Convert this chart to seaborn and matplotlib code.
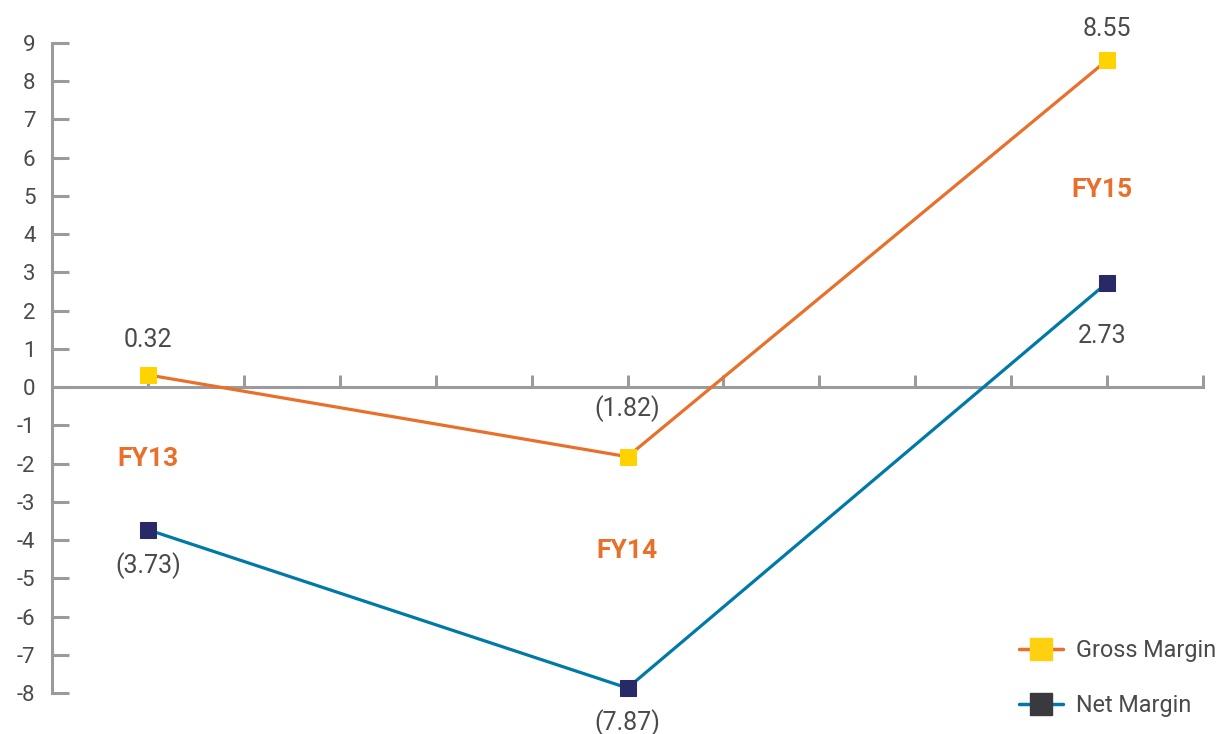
import matplotlib
matplotlib.use("Agg")
import matplotlib.pyplot as plt
import seaborn as sns
import pandas as pd
from matplotlib.lines import Line2D

years = ["FY13", "FY14", "FY15"]
gross_margin = [0.32, -1.82, 8.55]
net_margin = [-3.73, -7.87, 2.73]
gross_labels = ["0.32", "(1.82)", "8.55"]
net_labels = ["(3.73)", "(7.87)", "2.73"]
y_ticks = list(range(-8, 10))

x_pos = [1, 6, 11]

sns.set_theme(style="white")
plt.rcParams["font.family"] = ["Roboto", "DejaVu Sans"]

df = pd.DataFrame({"x": x_pos, "gross": gross_margin, "net": net_margin, "year": years})

fig = plt.figure(figsize=(12.21, 7.34), dpi=100)
ax = fig.add_axes([52 / 1221, 1 - 693 / 734, (1203 - 52) / 1221, (693 - 43) / 734])

ORANGE = "#E8702A"
YELLOW = "#FFD200"
TEAL = "#0079A8"
NAVY = "#272A66"
GRAY = "#9B9B9F"
TXT = "#4A4A4A"

sns.lineplot(data=df, x="x", y="gross", ax=ax, color=ORANGE, linewidth=2.3,
             marker="s", markersize=12, markerfacecolor=YELLOW, markeredgecolor=YELLOW,
             clip_on=False, zorder=3)
sns.lineplot(data=df, x="x", y="net", ax=ax, color=TEAL, linewidth=2.3,
             marker="s", markersize=12, markerfacecolor=NAVY, markeredgecolor=NAVY,
             clip_on=False, zorder=3)

ax.set_xlim(0, 12)
ax.set_ylim(-8, 9)
ax.set_xlabel("")
ax.set_ylabel("")

for s in ["top", "right"]:
    ax.spines[s].set_visible(False)
ax.spines["bottom"].set_position(("data", 0))
for s in ["left", "bottom"]:
    ax.spines[s].set_color(GRAY)
    ax.spines[s].set_linewidth(2.2)

ax.set_yticks(y_ticks)
ax.set_yticklabels([str(v) for v in y_ticks])
ax.set_xticks(range(1, 13))
ax.set_xticklabels([])
ax.tick_params(axis="y", direction="in", length=12, width=2.2, color=GRAY,
               labelsize=16, labelcolor=TXT, pad=12, left=True)
ax.tick_params(axis="x", direction="in", length=9, width=2.2, color=GRAY, bottom=True)

# value labels (baseline positions)
g_label_y = [1.05, -0.76, 9.18]
n_label_y = [-4.86, -8.97, 1.15]
g_label_x = [1.0, 6.0, 11.0]
n_label_x = [1.0, 6.0, 10.95]
for x, y, t in zip(g_label_x, g_label_y, gross_labels):
    ax.text(x, y, t, ha="center", va="baseline", fontsize=18, color=TXT, clip_on=False)
for x, y, t in zip(n_label_x, n_label_y, net_labels):
    ax.text(x, y, t, ha="center", va="baseline", fontsize=18, color=TXT, clip_on=False)

year_y = [-2.06, -4.47, 4.97]
year_x = [1.0, 6.0, 10.95]
for x, y, t in zip(year_x, year_y, years):
    ax.text(x, y, t, ha="center", va="baseline", fontsize=19, fontweight="bold",
            color=ORANGE, clip_on=False)

handles = [
    Line2D([0], [0], color=ORANGE, lw=2.5, marker="s", markersize=15.5,
           markerfacecolor="#FFD00F", markeredgecolor="#FFD00F"),
    Line2D([0], [0], color=TEAL, lw=2.5, marker="s", markersize=15.5,
           markerfacecolor="#3A393E", markeredgecolor="#3A393E"),
]
leg = fig.legend(handles, ["Gross Margin", "Net Margin"], loc="center left",
                 bbox_to_anchor=(1019 / 1221, 1 - 678 / 734), frameon=False,
                 fontsize=16.8, labelcolor=TXT, handlelength=1.89, handletextpad=0.56,
                 labelspacing=1.39, borderpad=0, borderaxespad=0)

fig.savefig("out.png", dpi=100)
